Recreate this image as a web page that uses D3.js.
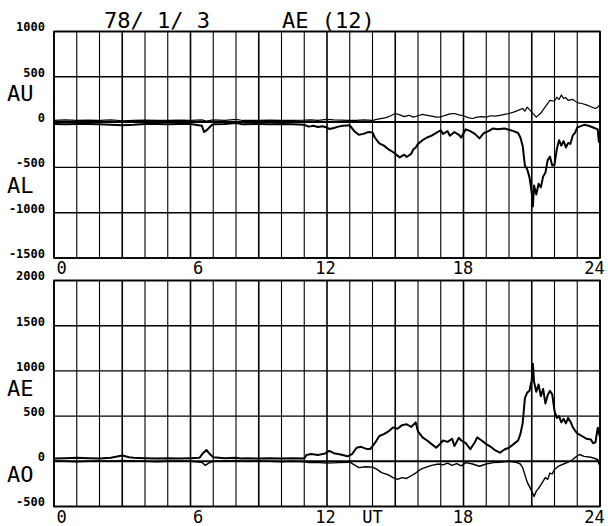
<!DOCTYPE html>
<html>
<head>
<meta charset="utf-8">
<script src="https://cdn.jsdelivr.net/npm/d3@7"></script>
<style>
  body { margin: 0; background: #fff; }
  svg { display: block; }
  text { font-family: "DejaVu Sans Mono", monospace; fill: #000; }
</style>
</head>
<body>
<div id="chart"></div>
<script>
// hours of the UT axis
const hours = d3.range(0, 25);
const hourLabels = [0, 6, 12, 18, 24];
const topTicks = [-1500, -1000, -500, 0, 500, 1000];
const bottomTicks = [-500, 0, 500, 1000, 1500, 2000];

// [UT hour, nT]
const auData = [
  [0, 20], [0.5, 25], [1, 18], [1.5, 22], [2, 20], [2.5, 25], [3, 15], [3.5, 20], [4, 22], [4.5, 18],
  [5, 20], [5.5, 22], [6, 20], [6.5, 25], [6.7, 10], [7, 25], [7.5, 20], [8, 30], [8.3, 18], [9, 20],
  [9.5, 22], [10, 18], [10.5, 20], [11, 22], [11.3, 25], [11.6, 20], [12, 30], [12.3, 25], [12.6, 22],
  [13, 20], [13.3, 18], [13.6, 25], [14, 20], [14.3, 35], [14.6, 50], [14.8, 70], [15, 95], [15.2, 80],
  [15.4, 60], [15.6, 75], [15.8, 55], [16, 70], [16.2, 85], [16.4, 75], [16.6, 65], [16.8, 55], [17, 58],
  [17.2, 75], [17.4, 90], [17.6, 95], [17.8, 80], [18, 70], [18.2, 50], [18.4, 40], [18.6, 55], [18.8, 60],
  [19, 55], [19.2, 70], [19.4, 65], [19.6, 75], [19.8, 85], [20, 95], [20.2, 110], [20.4, 130], [20.6, 150],
  [20.7, 120], [20.8, 165], [21, 110], [21.2, 55], [21.4, 100], [21.6, 170], [21.8, 240], [22, 230],
  [22.1, 275], [22.2, 250], [22.3, 300], [22.4, 260], [22.5, 270], [22.6, 240], [22.8, 250], [23, 215],
  [23.2, 205], [23.4, 190], [23.6, 170], [23.8, 150], [23.9, 165], [24, 195]
];

const alData = [
  [0, -20], [0.5, -25], [1, -22], [1.5, -20], [2, -25], [2.5, -30], [3, -35], [3.5, -30], [4, -22],
  [4.5, -20], [5, -25], [5.5, -20], [6, -22], [6.5, -40], [6.6, -110], [6.75, -80], [6.9, -40], [7, -25],
  [7.5, -20], [8, -10], [8.3, -25], [9, -20], [9.5, -25], [10, -20], [10.5, -25], [11, -30], [11.2, -50],
  [11.4, -40], [11.6, -55], [11.8, -45], [12, -60], [12.1, -75], [12.3, -65], [12.5, -50], [12.7, -40],
  [13, -35], [13.2, -100], [13.4, -140], [13.6, -130], [13.8, -110], [14, -115], [14.1, -170], [14.3, -235],
  [14.5, -260], [14.7, -300], [14.9, -330], [15.1, -370], [15.2, -390], [15.4, -360], [15.5, -385],
  [15.7, -350], [15.8, -300], [15.9, -280], [16, -240], [16.2, -200], [16.4, -170], [16.6, -150],
  [16.8, -120], [17, -90], [17.1, -130], [17.3, -100], [17.4, -150], [17.6, -110], [17.8, -140],
  [17.9, -170], [18.1, -80], [18.3, -100], [18.5, -130], [18.7, -180], [18.9, -120], [19.1, -100],
  [19.3, -70], [19.5, -80], [19.8, -70], [20, -85], [20.2, -100], [20.4, -120], [20.5, -170], [20.6, -260],
  [20.7, -480], [20.8, -520], [20.9, -610], [21, -780], [21.05, -930], [21.1, -700], [21.2, -800],
  [21.3, -680], [21.4, -720], [21.5, -600], [21.6, -560], [21.7, -420], [21.8, -380], [21.9, -480],
  [22, -470], [22.1, -300], [22.2, -200], [22.3, -260], [22.4, -210], [22.5, -280], [22.6, -230],
  [22.7, -240], [22.8, -150], [22.9, -120], [23, -60], [23.1, -50], [23.3, -30], [23.5, -40], [23.7, -60],
  [23.9, -80], [23.95, -220], [24, -150]
];

const aeData = [
  [0, 30], [0.5, 35], [1, 40], [1.5, 35], [2, 30], [2.5, 40], [3, 65], [3.3, 45], [3.5, 40], [4, 35],
  [4.5, 30], [5, 35], [5.5, 30], [6, 35], [6.4, 40], [6.55, 90], [6.7, 125], [6.85, 80], [7, 45], [7.5, 35],
  [8, 40], [8.2, 30], [8.5, 35], [9, 30], [9.5, 35], [10, 30], [10.5, 35], [11, 30], [11.1, 70], [11.3, 80],
  [11.6, 70], [11.9, 85], [12.1, 115], [12.3, 90], [12.6, 75], [12.9, 55], [13.1, 80], [13.3, 150],
  [13.5, 160], [13.7, 140], [13.9, 135], [14.1, 200], [14.3, 280], [14.5, 300], [14.7, 330], [14.9, 375],
  [15.1, 360], [15.3, 400], [15.5, 410], [15.7, 380], [15.9, 430], [16, 330], [16.2, 265], [16.4, 230],
  [16.6, 190], [16.8, 150], [17, 200], [17.1, 230], [17.3, 215], [17.5, 250], [17.6, 170], [17.8, 260],
  [17.9, 230], [18.1, 200], [18.3, 135], [18.5, 210], [18.6, 265], [18.8, 230], [19, 190], [19.2, 160],
  [19.4, 120], [19.6, 95], [19.8, 130], [20, 150], [20.2, 190], [20.4, 230], [20.5, 300], [20.6, 420],
  [20.7, 700], [20.8, 760], [20.9, 780], [21, 900], [21.05, 1080], [21.1, 880], [21.2, 770], [21.3, 850],
  [21.4, 720], [21.5, 800], [21.6, 640], [21.7, 730], [21.8, 780], [21.9, 740], [22, 560], [22.1, 480],
  [22.2, 500], [22.3, 430], [22.4, 470], [22.5, 420], [22.6, 480], [22.7, 440], [22.8, 380], [22.9, 340],
  [23, 310], [23.2, 280], [23.4, 250], [23.6, 240], [23.7, 200], [23.8, 210], [23.9, 370], [24, 270]
];

const aoData = [
  [0, 5], [0.5, 0], [1, -5], [1.5, 0], [2, 5], [2.5, 0], [3, 10], [3.5, 5], [4, 0], [4.5, -5], [5, 0],
  [5.5, 5], [6, 0], [6.5, -10], [6.65, -45], [6.8, -20], [7, 0], [7.5, 5], [8, 10], [8.3, 0], [9, 5],
  [9.5, 0], [10, -5], [10.5, 0], [11, -5], [11.2, -15], [11.5, -10], [12, -20], [12.5, -15], [13, -10],
  [13.2, -40], [13.4, -70], [13.7, -60], [14, -65], [14.2, -90], [14.4, -125], [14.7, -150], [14.9, -180],
  [15.1, -200], [15.3, -180], [15.5, -190], [15.7, -160], [15.9, -130], [16.1, -90], [16.3, -70],
  [16.6, -45], [16.9, -30], [17.1, -40], [17.3, -20], [17.5, -45], [17.7, -25], [17.9, -50], [18.1, -15],
  [18.4, -30], [18.7, -55], [19, -30], [19.3, -15], [19.6, -10], [20, 0], [20.3, -10], [20.5, -30],
  [20.6, -70], [20.7, -150], [20.8, -230], [20.9, -280], [21, -330], [21.1, -390], [21.2, -330],
  [21.3, -300], [21.4, -260], [21.5, -220], [21.6, -180], [21.7, -200], [21.8, -130], [21.9, -140],
  [22, -90], [22.2, -50], [22.4, -30], [22.6, -10], [22.8, 20], [23, 60], [23.1, 75], [23.3, 55],
  [23.6, 45], [23.9, 20], [23.95, -30], [24, 10]
];

const W = 608, H = 526;
const svg = d3.select('#chart').append('svg').attr('width', W).attr('height', H);
svg.append('rect').attr('width', W).attr('height', H).attr('fill', '#fff');

const x = d3.scaleLinear().domain([0, 24]).range([54, 600]);

function drawPanel({ top, bottom, domain, ticks, series, labels, ut }) {
  const y = d3.scaleLinear().domain(domain).range([bottom, top]);
  const g = svg.append('g');

  // hour grid
  g.selectAll('.vline').data(hours).join('line')
    .attr('x1', d => x(d)).attr('x2', d => x(d))
    .attr('y1', top).attr('y2', bottom)
    .attr('stroke', '#000')
    .attr('stroke-width', d => (d % 3 === 0 ? 1.6 : 1.1));

  g.selectAll('.hline').data(ticks).join('line')
    .attr('x1', x(0)).attr('x2', x(24))
    .attr('y1', d => y(d)).attr('y2', d => y(d))
    .attr('stroke', '#000')
    .attr('stroke-width', d => (d === 0 ? 2 : 1.4));

  // left axis labels
  const ax = g.append('g')
    .attr('transform', `translate(${x(0)},0)`)
    .call(d3.axisLeft(y).tickValues(ticks).tickSize(0).tickPadding(9).tickFormat(d => String(d)));
  ax.select('.domain').remove();
  ax.selectAll('text')
    .attr('dy', '-0.05em')
    .style('font-family', '"DejaVu Sans Mono", monospace')
    .style('font-size', '12px')
    .style('font-weight', 'bold')
    .attr('fill', '#000');

  // UT labels
  const bx = g.append('g')
    .attr('transform', `translate(0,${bottom})`)
    .call(d3.axisBottom(x).tickValues(labels).tickSize(0).tickPadding(0).tickFormat(d => String(d)));
  bx.select('.domain').remove();
  bx.selectAll('text')
    .attr('dy', '0.95em')
    .attr('dx', d => (d === 0 || d === 6 ? 7 : d === 24 ? -6 : d === 12 ? -2 : -1))
    .style('font-family', '"DejaVu Sans Mono", monospace')
    .style('font-size', '17px')
    .attr('fill', '#000');

  if (ut) {
    g.append('text')
      .attr('x', x(14)).attr('y', bottom + 16)
      .attr('text-anchor', 'middle')
      .style('font-size', '17px')
      .text('UT');
  }

  const line = d3.line().x(d => x(d[0])).y(d => y(d[1]));
  series.forEach((s) => {
    g.append('path')
      .datum(s.data)
      .attr('fill', 'none')
      .attr('stroke', '#000')
      .attr('stroke-width', s.width)
      .attr('stroke-linejoin', 'round')
      .attr('d', line);
    g.append('text')
      .attr('x', 7).attr('y', y(s.labelAt))
      .style('font-size', '22px')
      .text(s.name);
  });

  // frame
  g.append('rect')
    .attr('x', x(0)).attr('y', top)
    .attr('width', x(24) - x(0)).attr('height', bottom - top)
    .attr('fill', 'none').attr('stroke', '#000').attr('stroke-width', 1.6);

  return y;
}

drawPanel({
  top: 31.5, bottom: 258, domain: [-1500, 1000], ticks: topTicks, labels: hourLabels,
  series: [
    { name: 'AU', data: auData, width: 1.2, labelAt: 230 },
    { name: 'AL', data: alData, width: 2, labelAt: -785 }
  ]
});

drawPanel({
  top: 280.5, bottom: 506.5, domain: [-500, 2000], ticks: bottomTicks, labels: hourLabels, ut: true,
  series: [
    { name: 'AE', data: aeData, width: 2, labelAt: 720 },
    { name: 'AO', data: aoData, width: 1.4, labelAt: -225 }
  ]
});

svg.append('text').attr('x', 104).attr('y', 28).style('font-size', '22px').text('78/ 1/ 3');
svg.append('text').attr('x', 282).attr('y', 28).style('font-size', '22px').text('AE (12)');
</script>
</body>
</html>
